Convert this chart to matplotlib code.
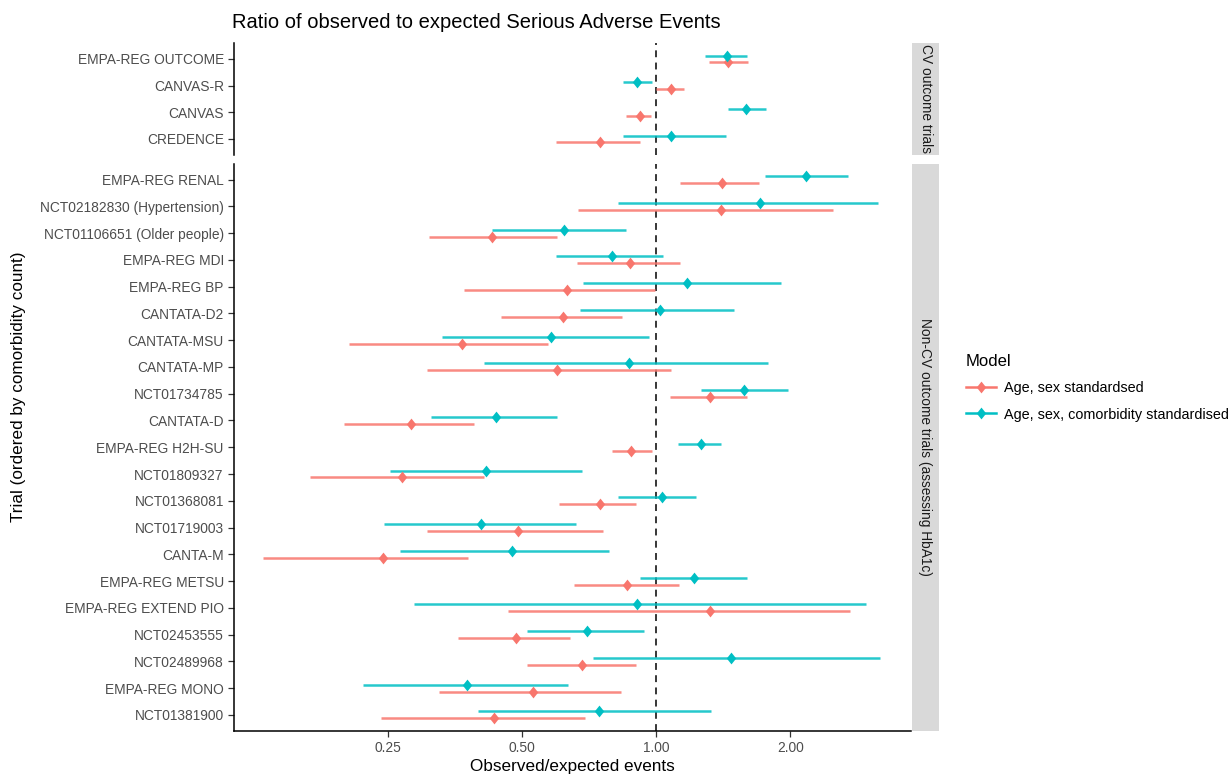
import matplotlib
matplotlib.use("Agg")
import matplotlib.pyplot as plt
import numpy as np
from matplotlib.lines import Line2D
from matplotlib.path import Path
from matplotlib.patches import Rectangle

plt.rcParams['font.family'] = ['Liberation Sans', 'DejaVu Sans']

# ---------------- data ----------------
cv_trials = ["EMPA-REG OUTCOME", "CANVAS-R", "CANVAS", "CREDENCE"]
cv_red_est = [1.45, 1.08, 0.92, 0.746]
cv_red_lo = [1.31, 1.00, 0.857, 0.595]
cv_red_hi = [1.61, 1.157, 0.973, 0.918]
cv_cyan_est = [1.44, 0.905, 1.587, 1.077]
cv_cyan_lo = [1.289, 0.841, 1.447, 0.841]
cv_cyan_hi = [1.599, 0.977, 1.765, 1.431]

ncv_trials = ["EMPA-REG RENAL", "NCT02182830 (Hypertension)", "NCT01106651 (Older people)",
              "EMPA-REG MDI", "EMPA-REG BP", "CANTATA-D2", "CANTATA-MSU", "CANTATA-MP",
              "NCT01734785", "CANTATA-D", "EMPA-REG H2H-SU", "NCT01809327", "NCT01368081",
              "NCT01719003", "CANTA-M", "EMPA-REG METSU", "EMPA-REG EXTEND PIO",
              "NCT02453555", "NCT02489968", "EMPA-REG MONO", "NCT01381900"]
ncv_red_est = [1.408, 1.395, 0.427, 0.875, 0.629, 0.618, 0.367, 0.598, 1.320, 0.281, 0.879,
               0.269, 0.746, 0.489, 0.243, 0.860, 1.320, 0.485, 0.680, 0.530, 0.431]
ncv_red_lo = [1.133, 0.667, 0.308, 0.663, 0.370, 0.449, 0.204, 0.305, 1.072, 0.199, 0.796,
              0.167, 0.606, 0.305, 0.131, 0.655, 0.464, 0.359, 0.512, 0.325, 0.241]
ncv_red_hi = [1.705, 2.497, 0.599, 1.130, 0.993, 0.839, 0.570, 1.079, 1.599, 0.390, 0.977,
              0.411, 0.901, 0.761, 0.377, 1.122, 2.720, 0.639, 0.901, 0.833, 0.691]
ncv_cyan_est = [2.169, 1.709, 0.620, 0.796, 1.170, 1.019, 0.580, 0.869, 1.573, 0.436, 1.257,
                0.414, 1.028, 0.403, 0.474, 1.217, 0.905, 0.699, 1.474, 0.375, 0.744]
ncv_cyan_lo = [1.753, 0.822, 0.427, 0.595, 0.683, 0.675, 0.331, 0.411, 1.260, 0.312, 1.117,
               0.252, 0.822, 0.245, 0.266, 0.920, 0.286, 0.512, 0.722, 0.219, 0.398]
ncv_cyan_hi = [2.701, 3.153, 0.855, 1.035, 1.910, 1.498, 0.961, 1.778, 1.973, 0.599, 1.395,
               0.680, 1.231, 0.660, 0.785, 1.599, 2.955, 0.940, 3.175, 0.633, 1.329]

x_ticks = [0.25, 0.5, 1.0, 2.0]
x_tick_labels = ["0.25", "0.50", "1.00", "2.00"]
model_labels = ["Age, sex standardsed", "Age, sex, comorbidity standardised"]
strip_labels = ["CV outcome trials", "Non-CV outcome trials (assessing HbA1c)"]

RED = "#F8766D"
CYAN = "#00BFC4"

# ---------------- figure ----------------
W, H = 1232, 775
fig = plt.figure(figsize=(W / 100, H / 100), dpi=100)

def px_axes(x0, y0, x1, y1):
    return fig.add_axes([x0 / W, 1 - y1 / H, (x1 - x0) / W, (y1 - y0) / H])

ax_top = px_axes(234, 43, 911, 155)
ax_bot = px_axes(234, 163.5, 911, 731)

diamond = Path([(0, 1), (0.8, 0), (0, -1), (-0.8, 0), (0, 1)],
               [Path.MOVETO, Path.LINETO, Path.LINETO, Path.LINETO, Path.CLOSEPOLY])

xlim = (2 ** -3.15, 2 ** 1.9)
dodge = 0.13
LW = 1.8
MS = 8.5

def draw_panel(ax, trials, rest, rlo, rhi, cest, clo, chi, bottom):
    n = len(trials)
    y = np.arange(n)
    yr = y + dodge
    yc = y - dodge
    ax.hlines(yr, rlo, rhi, color=RED, lw=LW, alpha=0.85, zorder=2)
    ax.hlines(yc, clo, chi, color=CYAN, lw=LW, alpha=0.85, zorder=2)
    ax.plot(rest, yr, ls='none', marker=diamond, ms=MS, color=RED, mec='none', zorder=3)
    ax.plot(cest, yc, ls='none', marker=diamond, ms=MS, color=CYAN, mec='none', zorder=3)
    ax.axvline(1.0, color='black', lw=1.1, ls=(0, (4.5, 3.5)), zorder=1)
    ax.set_xscale('log', base=2)
    ax.set_xlim(*xlim)
    ax.set_ylim(n - 1 + 0.6, -0.6)
    ax.set_yticks(y)
    ax.set_yticklabels(trials, fontsize=9.9, color='#4D4D4D')
    ax.tick_params(axis='y', length=4.3, width=0.9, color='#333333', pad=3)
    for s in ['top', 'right']:
        ax.spines[s].set_visible(False)
    ax.spines['left'].set_linewidth(1.1)
    ax.spines['left'].set_color('black')
    if bottom:
        ax.spines['bottom'].set_linewidth(1.1)
        ax.spines['bottom'].set_color('black')
        ax.set_xticks(x_ticks)
        ax.set_xticklabels(x_tick_labels, fontsize=9.9, color='#4D4D4D')
        ax.minorticks_off()
        ax.tick_params(axis='x', length=4.3, width=0.9, color='#333333', pad=3)
    else:
        ax.spines['bottom'].set_visible(False)
        ax.set_xticks([])
        ax.minorticks_off()
        ax.tick_params(axis='x', which='both', length=0, labelbottom=False)

draw_panel(ax_top, cv_trials, cv_red_est, cv_red_lo, cv_red_hi,
           cv_cyan_est, cv_cyan_lo, cv_cyan_hi, False)
draw_panel(ax_bot, ncv_trials, ncv_red_est, ncv_red_lo, ncv_red_hi,
           ncv_cyan_est, ncv_cyan_lo, ncv_cyan_hi, True)

# strips
for (y0, y1), lab in zip([(43, 155), (163.5, 731)], strip_labels):
    fig.patches.append(Rectangle((912 / W, 1 - y1 / H), 27 / W, (y1 - y0) / H,
                                 transform=fig.transFigure, facecolor='#D9D9D9',
                                 edgecolor='none'))
    fig.text(925.5 / W, 1 - (y0 + y1) / 2 / H, lab, rotation=-90, ha='center',
             va='center', fontsize=9.9, color='#1A1A1A')

# titles
fig.text(232 / W, 1 - 22 / H, "Ratio of observed to expected Serious Adverse Events",
         fontsize=14.5, ha='left', va='center', color='black')
fig.text((234 + 911) / 2 / W, 1 - 766 / H, "Observed/expected events",
         fontsize=12.3, ha='center', va='center', color='black')
fig.text(19 / W, 1 - 387 / H, "Trial (ordered by comorbidity count)",
         fontsize=12.3, ha='center', va='center', rotation=90, color='black')

# legend
handles = [Line2D([], [], color=RED, lw=LW, marker=diamond, ms=MS, mec='none'),
           Line2D([], [], color=CYAN, lw=LW, marker=diamond, ms=MS, mec='none')]
leg = fig.legend(handles, model_labels, title="Model", loc='upper left',
                 bbox_to_anchor=(953 / W, 1 - 341 / H), frameon=False,
                 fontsize=10.4, title_fontsize=12, handlelength=2.1,
                 handletextpad=0.55, labelspacing=0.85, alignment='left')
leg.get_title().set_color('black')

fig.savefig("out.png", dpi=100)
